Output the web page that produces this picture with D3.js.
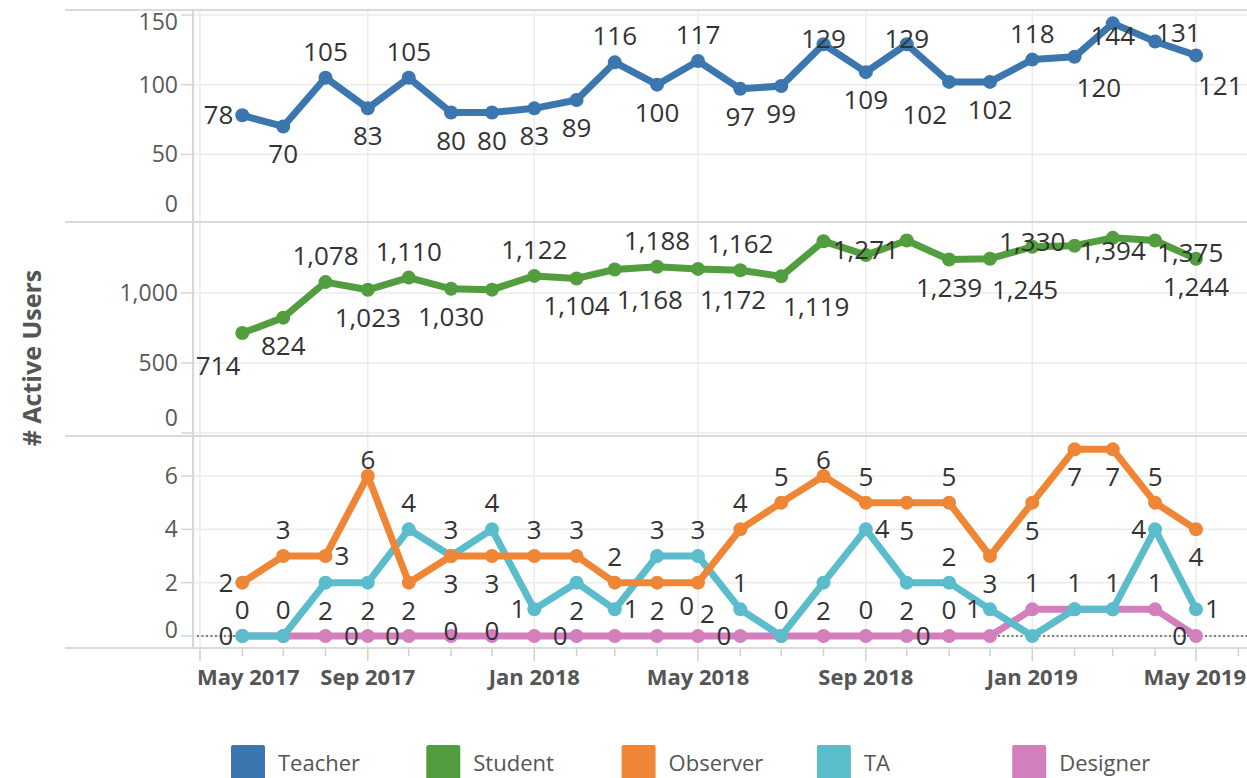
<!DOCTYPE html>
<html>
<head>
<meta charset="utf-8">
<script src="https://cdn.jsdelivr.net/npm/d3@7"></script>
<style>
  body { margin: 0; background: #fff; }
  svg { display: block; font-family: "Open Sans", "Noto Sans", sans-serif; }
</style>
</head>
<body>
<div id="chart"></div>
<script>
// months (one point per month)
const months = ["2017-06","2017-07","2017-08","2017-09","2017-10","2017-11","2017-12",
  "2018-01","2018-02","2018-03","2018-04","2018-05","2018-06","2018-07","2018-08","2018-09",
  "2018-10","2018-11","2018-12","2019-01","2019-02","2019-03","2019-04","2019-05"];

const teacher  = [78,70,105,83,105,80,80,83,89,116,100,117,97,99,129,109,129,102,102,118,120,144,131,121];
const student  = [714,824,1078,1023,1110,1030,1024,1122,1104,1168,1188,1172,1162,1119,1370,1271,1375,1239,1245,1330,1338,1394,1375,1244];
const observer = [2,3,3,6,2,3,3,3,3,2,2,2,4,5,6,5,5,5,3,5,7,7,5,4];
const ta       = [0,0,2,2,4,3,4,1,2,1,3,3,1,0,2,4,2,2,1,0,1,1,4,1];
const designer = [0,0,0,0,0,0,0,0,0,0,0,0,0,0,0,0,0,0,0,1,1,1,1,0];

const teacherTicks = [0, 50, 100, 150];
const studentTicks = [0, 500, 1000];
const otherTicks   = [0, 2, 4, 6];

// where each mark label sits (t=top, b=bottom, l/r=side, ""=hidden)
const teacherLbl  = ["l","b","t","b","t","b","b","b","b","t","b","t","b","b","T","b","T","bl","b","t","br","B","tr","br"];
const studentLbl  = ["bl","b","t","b","t","b","","t","b","br","t","br","t","br","","T","","b","br","T","","B","Br","b"];
const observerLbl = ["l","t","r","tt","b","t","b","t","t","t","b","br","t","t","tt","t","b","t","b","b","b","b","t","b"];
const taLbl       = ["t","t","b","b","t","b","t","l","b","r","t","t","t","t","b","r","b","t","l","","t","t","l","r"];
const designerLbl = ["l","","","l","l","T","T","","l","","","tl","l","","","t","r","t","","t","","","t","l"];

const legendNames  = ["Teacher","Student","Observer","TA","Designer"];
const legendColors = ["#3b76af","#529e3e","#ef8636","#5bbccc","#d37fbd"];

const width = 1247, height = 778;
const left = 65, axisX = 193;

const place = {
  t:  ["middle", 0, -17], tt: ["middle", 0, -7], T: ["middle", 0, 4],
  b:  ["middle", 0, 37],  B:  ["middle", 0, 22],
  l:  ["end", -9, 9],     r:  ["start", 9, 9],
  tr: ["start", 1, 1],    tl: ["end", -4, -21],
  br: ["start", 2, 40],   Br: ["start", 2, 21], bl: ["end", -2, 42]
};

const dates = months.map(d3.timeParse("%Y-%m"));

const x = d3.scaleTime()
  .domain([new Date(2017, 4, 1), new Date(2019, 4, 1)])
  .range([200, 1196]);

const panes = [
  { top: 10,  bottom: 222, y: d3.scaleLinear([0, 150], [224, 15]),  ticks: teacherTicks },
  { top: 222, bottom: 436, y: d3.scaleLinear([0, 1500], [433, 223]), ticks: studentTicks },
  { top: 436, bottom: 648, y: d3.scaleLinear([0, 6], [636, 476]),    ticks: otherTicks }
];

const series = [
  { name: "Teacher",  values: teacher,  lbl: teacherLbl,  pane: 0 },
  { name: "Student",  values: student,  lbl: studentLbl,  pane: 1 },
  { name: "Designer", values: designer, lbl: designerLbl, pane: 2 },
  { name: "TA",       values: ta,       lbl: taLbl,       pane: 2 },
  { name: "Observer", values: observer, lbl: observerLbl, pane: 2 }
];
const color = d3.scaleOrdinal(legendNames, legendColors);

const svg = d3.select("#chart").append("svg")
  .attr("width", width)
  .attr("height", height);

svg.append("rect").attr("width", width).attr("height", height).attr("fill", "#fff");

const tickMonths = d3.timeMonth.range(new Date(2017, 4, 1), new Date(2019, 6, 1));
const major = tickMonths.filter(d => d.getMonth() % 4 === 0);

// grid
const grid = svg.append("g");
grid.selectAll("line.v")
  .data(major)
  .join("line")
  .attr("x1", d => x(d)).attr("x2", d => x(d))
  .attr("y1", 10).attr("y2", 648)
  .attr("stroke", "#ebebeb").attr("stroke-width", 1.5);

panes.forEach(p => {
  const inside = p.ticks.filter(t => p.y(t) > p.top + 1 && p.y(t) < p.bottom - 1);
  grid.append("g").selectAll("line")
    .data(inside)
    .join("line")
    .attr("x1", axisX).attr("x2", width)
    .attr("y1", d => p.y(d)).attr("y2", d => p.y(d))
    .attr("stroke", "#ebebeb").attr("stroke-width", 1.5);

  // y tick marks
  grid.append("g").selectAll("line")
    .data(inside)
    .join("line")
    .attr("x1", axisX - 12).attr("x2", axisX)
    .attr("y1", d => p.y(d)).attr("y2", d => p.y(d))
    .attr("stroke", "#d6d6d6").attr("stroke-width", 1.5);

  // y tick labels, pushed inside the pane like Tableau does
  svg.append("g").selectAll("text")
    .data(p.ticks)
    .join("text")
    .attr("x", 178)
    .attr("y", d => Math.max(p.top + 12, Math.min(p.bottom - 18, p.y(d))))
    .attr("dy", "0.35em")
    .attr("text-anchor", "end")
    .attr("font-size", 23)
    .attr("fill", "#595959")
    .text(d3.format(","));
});

// pane separators
svg.append("g").selectAll("line")
  .data([10, 222, 436, 648])
  .join("line")
  .attr("x1", left).attr("x2", width)
  .attr("y1", d => d).attr("y2", d => d)
  .attr("stroke", "#d9d9d9").attr("stroke-width", 2);

svg.append("line")
  .attr("x1", axisX).attr("x2", axisX)
  .attr("y1", 10).attr("y2", 648)
  .attr("stroke", "#d6d6d6").attr("stroke-width", 2);

// x ticks
svg.append("g").selectAll("line")
  .data(tickMonths.filter(d => x(d) < width))
  .join("line")
  .attr("x1", d => x(d)).attr("x2", d => x(d))
  .attr("y1", 649)
  .attr("y2", d => d.getMonth() % 4 === 0 ? 661 : 656)
  .attr("stroke", "#d0d0d0").attr("stroke-width", 1.5);

const xLabels = svg.append("g").selectAll("text")
  .data(major)
  .join("text")
  .attr("x", d => x(d))
  .attr("y", 685)
  .attr("text-anchor", "middle")
  .attr("font-size", 22)
  .attr("font-weight", 700)
  .attr("fill", "#555")
  .text(d3.timeFormat("%b %Y"));
xLabels.each(function () {
  const w = this.getComputedTextLength();
  const cx = +this.getAttribute("x");
  if (cx - w / 2 < axisX + 4) this.setAttribute("x", axisX + 4 + w / 2);
  if (cx + w / 2 > width - 1) this.setAttribute("x", width - 1 - w / 2);
});

// dotted zero line in the bottom pane
svg.append("line")
  .attr("x1", axisX + 4).attr("x2", width)
  .attr("y1", panes[2].y(0)).attr("y2", panes[2].y(0))
  .attr("stroke", "#555").attr("stroke-width", 1.5)
  .attr("stroke-dasharray", "2,2.5");

// lines + dots
const marks = svg.append("g");
series.forEach(s => {
  const y = panes[s.pane].y;
  const pts = s.values.map((v, i) => ({ date: dates[i], v, pos: s.lbl[i] }));
  s.pts = pts;
  const g = marks.append("g");
  g.append("path")
    .datum(pts)
    .attr("fill", "none")
    .attr("stroke", color(s.name))
    .attr("stroke-width", 7)
    .attr("stroke-linejoin", "round")
    .attr("stroke-linecap", "round")
    .attr("d", d3.line().x(d => x(d.date)).y(d => y(d.v)));
  g.selectAll("circle")
    .data(pts)
    .join("circle")
    .attr("cx", d => x(d.date))
    .attr("cy", d => y(d.v))
    .attr("r", 7)
    .attr("fill", color(s.name));
});

// mark labels
const labels = svg.append("g")
  .attr("font-size", 26)
  .attr("fill", "#333");
series.forEach(s => {
  const y = panes[s.pane].y;
  labels.append("g").selectAll("text")
    .data(s.pts.filter(d => d.pos))
    .join("text")
    .attr("text-anchor", d => place[d.pos][0])
    .attr("x", d => x(d.date) + place[d.pos][1])
    .attr("y", d => y(d.v) + place[d.pos][2])
    .text(d => d3.format(",")(d.v));
});

// y axis title
svg.append("text")
  .attr("transform", "translate(41,358) rotate(-90)")
  .attr("text-anchor", "middle")
  .attr("font-size", 25)
  .attr("font-weight", 700)
  .attr("fill", "#555")
  .text("# Active Users");

// legend
const legend = svg.append("g").selectAll("g")
  .data(legendNames)
  .join("g")
  .attr("transform", (d, i) => `translate(${231 + i * 195.3},745)`);
legend.append("rect")
  .attr("width", 34).attr("height", 40)
  .attr("rx", 2)
  .attr("fill", d => color(d));
legend.append("text")
  .attr("x", 47).attr("y", 26)
  .attr("font-size", 22)
  .attr("fill", "#555")
  .text(d => d);
</script>
</body>
</html>
